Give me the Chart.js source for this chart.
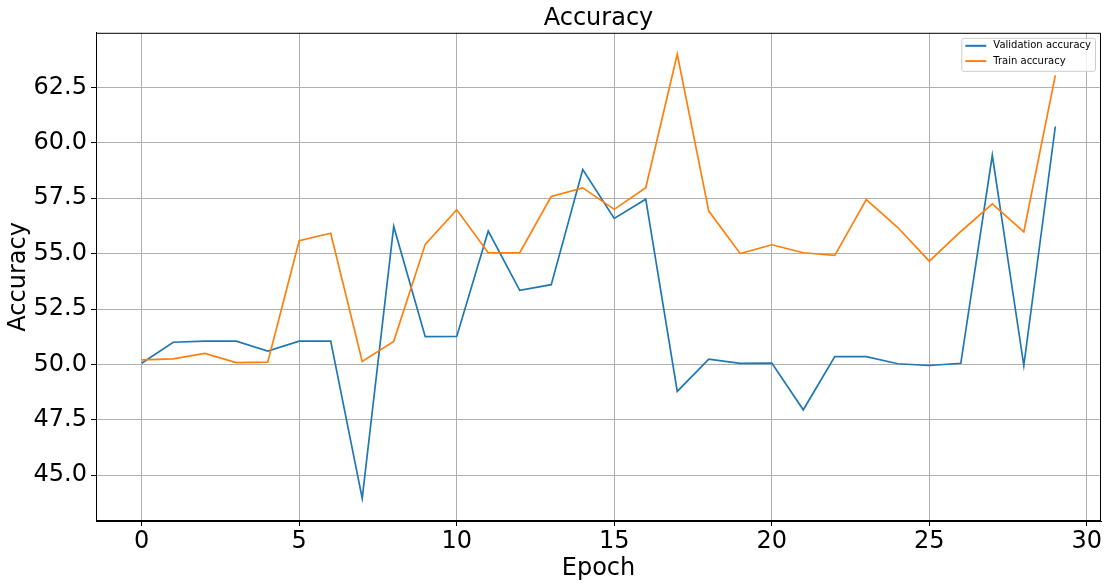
<!DOCTYPE html>
<html>
<head>
<meta charset="utf-8">
<script src="https://cdn.jsdelivr.net/npm/chart.js@4.4.1/dist/chart.umd.min.js"></script>
<style>
  body { margin: 0; background: #fff; }
</style>
</head>
<body>
<canvas id="accChart" width="1108" height="587"></canvas>
<script>
var epochs = [0,1,2,3,4,5,6,7,8,9,10,11,12,13,14,15,16,17,18,19,20,21,22,23,24,25,26,27,28,29];
var valAcc = [50.05,51.0,51.05,51.05,50.6,51.05,51.05,43.95,56.23,51.25,
              51.26,56.02,53.34,53.6,58.8,56.59,57.46,48.78,50.24,50.05,
              50.06,47.95,50.35,50.35,50.03,49.95,50.05,59.44,49.95,60.74];
var trainAcc = [50.2,50.25,50.5,50.08,50.1,55.58,55.92,50.13,51.04,55.42,
                56.98,55.04,55.04,57.58,57.97,57.0,57.98,64.0,56.92,55.0,
                55.4,55.04,54.92,57.44,56.18,54.66,56.0,57.25,55.98,63.05];
var seriesNames = ['Validation accuracy', 'Train accuracy'];
var seriesColors = ['#1f77b4', '#ff7f0e'];

function toPoints(vals) {
    return epochs.map(function(e, i) { return {x: e, y: vals[i]}; });
}

var FONT = '"DejaVu Sans", sans-serif';
Chart.defaults.color = '#000';
Chart.defaults.font.family = FONT;

// black frame around the plot area (top/right side too, like matplotlib)
var framePlugin = {
    id: 'frame',
    afterDatasetsDraw: function(chart) {
        var ca = chart.chartArea, ctx = chart.ctx;
        ctx.save();
        ctx.strokeStyle = '#000';
        ctx.lineWidth = 1;
        ctx.strokeRect(ca.left + 0.5, ca.top + 0.5, ca.right - ca.left - 1, ca.bottom - ca.top - 1);
        ctx.restore();
    }
};

// legend box inside the plot, upper right
var boxLegend = {
    id: 'boxLegend',
    afterDraw: function(chart) {
        var ca = chart.chartArea, ctx = chart.ctx;
        var ds = chart.data.datasets;
        ctx.save();
        ctx.font = '10px ' + FONT;
        var textW = 0;
        ds.forEach(function(d) { textW = Math.max(textW, ctx.measureText(d.label).width); });
        var right = ca.right - 6, top = ca.top + 5;
        var w = 4 + 21 + 7 + textW + 4, h = 33;
        var left = right - w;
        ctx.fillStyle = 'rgba(255,255,255,0.8)';
        ctx.strokeStyle = '#cccccc';
        ctx.lineWidth = 1;
        ctx.beginPath();
        ctx.roundRect(left + 0.5, top + 0.5, w, h, 2);
        ctx.fill();
        ctx.stroke();
        ds.forEach(function(d, i) {
            var y = top + 8 + i * 15.3;
            ctx.strokeStyle = d.borderColor;
            ctx.lineWidth = 2;
            ctx.beginPath();
            ctx.moveTo(left + 4, y);
            ctx.lineTo(left + 25, y);
            ctx.stroke();
            ctx.fillStyle = '#000';
            ctx.textBaseline = 'middle';
            ctx.fillText(d.label, left + 32, y);
        });
        ctx.restore();
    }
};

var ctx = document.getElementById('accChart');
var accChart = new Chart(ctx, {
    type: 'line',
    data: {
        datasets: [{
            label: seriesNames[0],
            data: toPoints(valAcc),
            borderColor: seriesColors[0],
            backgroundColor: seriesColors[0],
            borderWidth: 1.7,
            pointRadius: 0,
            tension: 0,
            order: 1
        }, {
            label: seriesNames[1],
            data: toPoints(trainAcc),
            borderColor: seriesColors[1],
            backgroundColor: seriesColors[1],
            borderWidth: 1.7,
            pointRadius: 0,
            tension: 0,
            order: 0
        }]
    },
    options: {
        responsive: false,
        animation: false,
        layout: { padding: { left: 0, right: 7, top: 0, bottom: 0 } },
        plugins: {
            legend: { display: false },
            tooltip: { enabled: false },
            title: {
                display: true,
                text: 'Accuracy',
                fullSize: false,
                font: { size: 24, weight: 'normal' },
                padding: { top: 4, bottom: 0 }
            }
        },
        scales: {
            x: {
                type: 'linear',
                min: -1.45,
                max: 30.45,
                ticks: {
                    stepSize: 5,
                    includeBounds: false,
                    padding: 1,
                    font: { size: 24 },
                    callback: function(v) { return v; }
                },
                grid: { color: '#b0b0b0', lineWidth: 1, tickLength: 5, tickColor: '#000' },
                border: { color: '#000', width: 1 },
                title: {
                    display: true,
                    text: 'Epoch',
                    font: { size: 24 },
                    padding: { top: 0, bottom: 4 }
                },
                afterFit: function(scale) { scale.height = 66; }
            },
            y: {
                min: 42.93,
                max: 64.97,
                ticks: {
                    stepSize: 2.5,
                    includeBounds: false,
                    padding: 4,
                    font: { size: 24 },
                    callback: function(v) { return v.toFixed(1); }
                },
                grid: { color: '#b0b0b0', lineWidth: 1, tickLength: 5, tickColor: '#000' },
                border: { color: '#000', width: 1 },
                title: {
                    display: true,
                    text: 'Accuracy',
                    font: { size: 24 },
                    padding: { top: 4, bottom: 0 }
                },
                afterFit: function(scale) { scale.width = 96; }
            }
        }
    },
    plugins: [framePlugin, boxLegend]
});
</script>
</body>
</html>
